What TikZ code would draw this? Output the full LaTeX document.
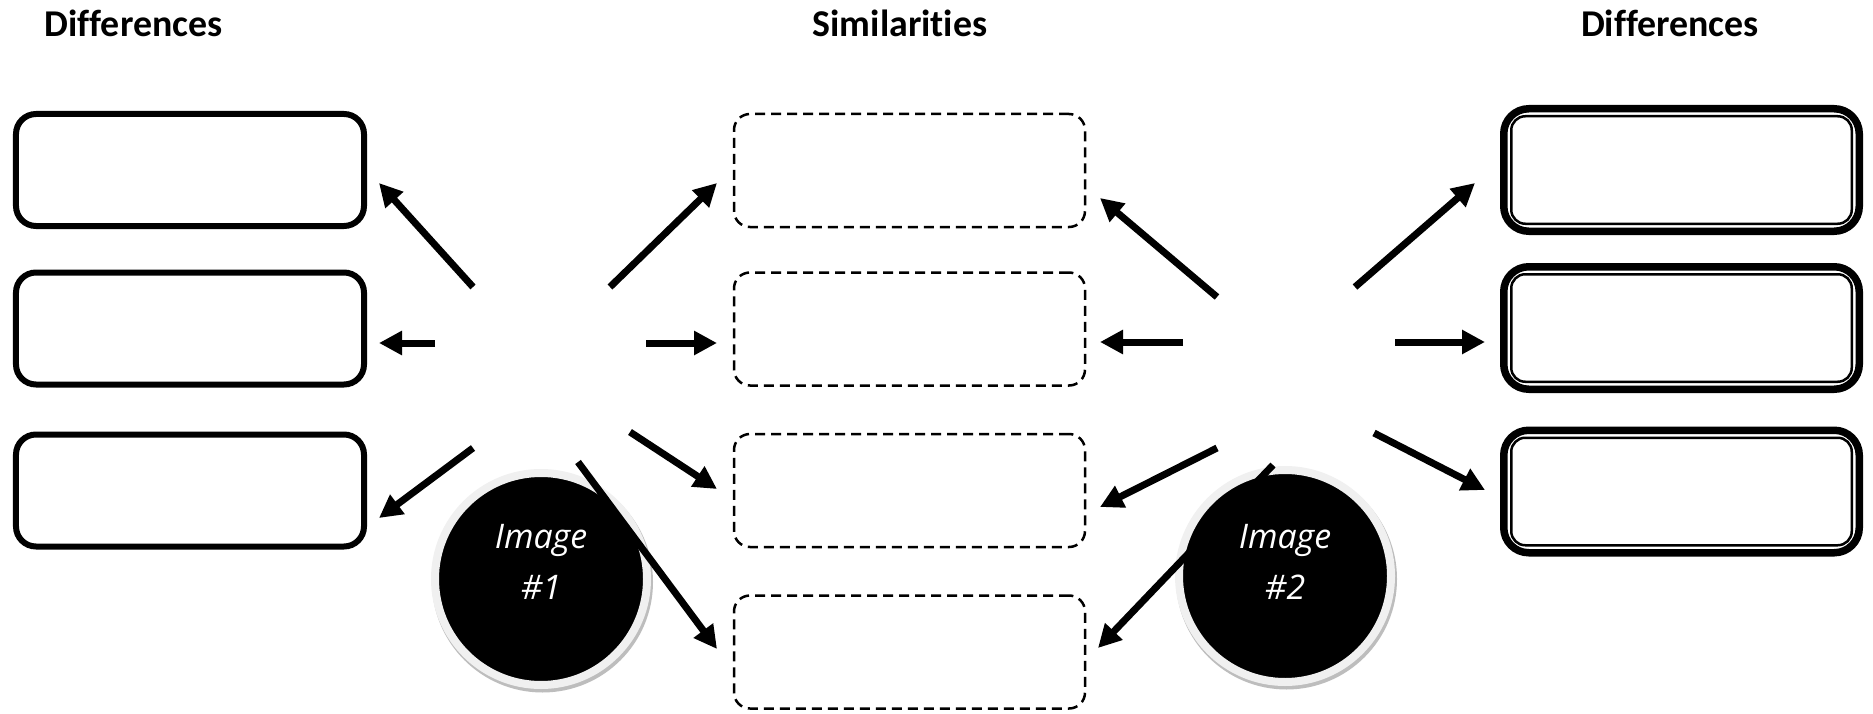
\documentclass[tikz,border=0pt]{standalone}
\usepackage{fontspec}
\setmainfont[Ligatures=NoCommon]{Carlito}
\newfontfamily\imgfont{Open Sans}
\usetikzlibrary{arrows.meta,calc}
\definecolor{ringgray}{HTML}{F0F0F0}
\definecolor{shadowgray}{HTML}{BDBDBD}
\begin{document}
\begin{tikzpicture}[x=1bp,y=-1bp,
  titletext/.style={font=\fontsize{38}{45}\selectfont\bfseries, anchor=base, inner sep=0pt},
  diffbox/.style={draw, line width=6bp, rounded corners=20bp, minimum width=348bp, minimum height=112bp, inner sep=0pt},
  simbox/.style={draw, line width=2.5bp, dash pattern=on 10bp off 6bp, rounded corners=16bp, minimum width=351bp, minimum height=113bp, inner sep=0pt},
  dblbox/.style={draw, line width=7.5bp, rounded corners=25bp, minimum width=355.5bp, minimum height=122.5bp, inner sep=0pt},
  dblinner/.style={draw, line width=2.5bp, rounded corners=14bp},
  imgcircle/.style={circle, fill=black, draw=ringgray, line width=8bp, minimum size=212bp, inner sep=0pt},
  imgshadow/.style={fill=shadowgray},
  imgtext/.style={text=white, align=center, inner sep=0pt, font=\imgfont\itshape\fontsize{34}{51}\selectfont},
  arr/.style={line width=7bp, -{Triangle[length=23bp,width=23bp]}}
]
\fill[white] (0,0) rectangle (1873,714);
\useasboundingbox (0,0) rectangle (1873,714);

% titles
\node[titletext] (tL) at (133.5,37) {Differences};
\node[titletext] (tM) at (900,37) {Similarities};
\node[titletext] (tR) at (1670,37) {Differences};

% left boxes
\node[diffbox] (L1) at (190,170) {};
\node[diffbox] (L2) at (190,328.5) {};
\node[diffbox] (L3) at (190,490.5) {};

% middle boxes
\node[simbox] (M1) at (909.5,170.5) {};
\node[simbox] (M2) at (909.5,329) {};
\node[simbox] (M3) at (909.5,490.5) {};
\node[simbox] (M4) at (909.5,652) {};

% right boxes
\foreach \n/\yy in {R1/170, R2/328, R3/491.5} {
  \node[dblbox] (\n) at (1681.5,\yy) {};
  \draw[dblinner] ([shift={(11.25,11.25)}]\n.north west) rectangle ([shift={(-11.25,-11.25)}]\n.south east);
}

% circles
\coordinate (c1pos) at (541,579);
\coordinate (c2pos) at (1285,576);
\fill[imgshadow] ($(c1pos)+(1.5,3)$) circle (110.5);
\fill[imgshadow] ($(c2pos)+(1.5,3)$) circle (110.5);
\node[imgcircle] (C1) at (c1pos) {};
\node[imgcircle] (C2) at (c2pos) {};
\node[imgtext] (C1t) at ($(C1.center)+(0,-17)$) {Image\\\#1};
\node[imgtext] (C2t) at ($(C2.center)+(0,-14)$) {Image\\\#2};

% arrow end points
\coordinate (aL1s) at (473,287); \coordinate (aL1t) at (379,183);
\coordinate (aL2s) at (435,343); \coordinate (aL2t) at (379,343);
\coordinate (aL3s) at (473,448); \coordinate (aL3t) at (379,518);
\coordinate (aM1s) at (610,287); \coordinate (aM1t) at (717,183);
\coordinate (aM2s) at (646,343); \coordinate (aM2t) at (717,343);
\coordinate (aM3s) at (630,432); \coordinate (aM3t) at (717,489);
\coordinate (aM4s) at (578,462); \coordinate (aM4t) at (717,649);
\coordinate (bM1s) at (1217,297); \coordinate (bM1t) at (1100,198);
\coordinate (bM2s) at (1183,342); \coordinate (bM2t) at (1100,342);
\coordinate (bM3s) at (1217,448); \coordinate (bM3t) at (1100,507);
\coordinate (bM4s) at (1273,465); \coordinate (bM4t) at (1098,648);
\coordinate (bR1s) at (1355,287); \coordinate (bR1t) at (1475,183);
\coordinate (bR2s) at (1395,342); \coordinate (bR2t) at (1485,342);
\coordinate (bR3s) at (1374,433); \coordinate (bR3t) at (1485,490);

\foreach \a in {aL1,aL2,aL3,aM1,aM2,aM3,aM4,bM1,bM2,bM3,bM4,bR1,bR2,bR3}
  \draw[arr] (\a s) -- (\a t);
\end{tikzpicture}
\end{document}
